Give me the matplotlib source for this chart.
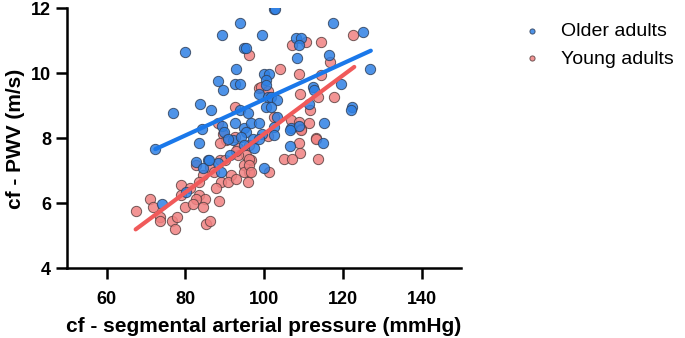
import matplotlib.pyplot as plt

plt.rcParams["font.family"] = ["Liberation Sans", "DejaVu Sans"]

# Older adults (blue)
older_x = [93.8, 89.3, 79.8, 94.8, 95.3, 92.9, 88.3, 92.5, 93.8, 89.7,
           77.0, 83.8, 86.6, 93.8, 95.9, 89.4, 92.7, 95.0, 96.7, 84.2,
           102.4, 102.9, 117.6, 99.6, 125.0, 108.1, 109.4, 108.9, 116.5, 108.3,
           126.8, 100.1, 101.3, 100.5, 100.5, 98.8, 100.9, 101.8, 103.2, 112.3,
           112.7, 119.5, 111.5, 122.4, 122.0, 100.5, 101.8, 103.4, 115.3, 98.8,
           102.6, 106.8, 108.9, 95.3, 99.6, 83.6, 72.4, 89.9, 92.1, 94.2,
           95.0, 97.1, 97.5, 91.4, 82.8, 85.7, 84.5, 88.3, 89.1, 80.3,
           74.2, 98.8, 102.6, 100.1, 106.6, 106.6, 115.0, 86.0, 90.8]
older_y = [11.56, 11.18, 10.66, 10.77, 10.77, 10.15, 9.77, 9.67, 9.67, 9.49,
           8.77, 9.06, 8.87, 8.87, 8.77, 8.38, 8.46, 8.31, 8.46, 8.29,
           11.97, 11.97, 11.56, 11.18, 11.26, 11.08, 11.08, 10.89, 10.58, 10.46,
           10.15, 9.98, 9.98, 9.79, 9.64, 9.36, 9.28, 9.28, 9.18, 9.57,
           9.49, 9.67, 9.06, 8.97, 8.87, 8.97, 8.97, 8.66, 8.48, 8.48,
           8.36, 8.31, 8.38, 8.20, 8.15, 7.87, 7.67, 8.20, 7.95, 8.05,
           7.79, 7.97, 7.69, 7.49, 7.28, 7.35, 7.08, 7.25, 6.97, 6.36,
           5.98, 7.97, 8.10, 7.08, 8.26, 7.76, 7.87, 7.33, 7.97]

# Young adults (red)
young_x = [96.3, 98.8, 92.7, 88.3, 122.7, 107.2, 110.6, 114.4, 116.8, 104.1,
           108.9, 114.4, 99.3, 100.9, 109.1, 113.8, 117.8, 111.7, 102.4, 106.8,
           108.8, 111.5, 109.4, 113.2, 89.5, 90.4, 92.5, 93.3, 95.5, 96.7,
           93.3, 82.6, 86.2, 88.7, 90.0, 84.5, 87.4, 95.0, 96.3, 95.0,
           91.7, 89.1, 90.8, 92.9, 95.9, 83.6, 79.0, 81.1, 79.0, 87.7,
           83.6, 84.9, 82.8, 88.5, 71.0, 71.8, 79.8, 81.9, 84.6, 67.6,
           73.5, 73.5, 76.5, 77.9, 77.3, 85.3, 86.3, 88.7, 96.3, 92.9,
           96.3, 96.3, 96.7, 101.2, 100.9, 109.4, 108.9, 109.1, 105.1, 107.1,
           113.2, 113.6]
young_y = [10.56, 9.55, 8.97, 8.46, 11.18, 10.89, 10.97, 10.97, 10.36, 10.15,
           9.98, 9.95, 9.57, 9.46, 9.36, 9.28, 9.28, 8.87, 8.66, 8.56,
           8.51, 8.46, 8.28, 8.00, 8.15, 7.95, 8.05, 7.69, 7.49, 7.33,
           7.49, 7.18, 7.13, 7.35, 7.33, 6.87, 6.97, 7.18, 6.97, 6.97,
           6.87, 6.66, 6.66, 6.74, 6.66, 6.66, 6.56, 6.46, 6.26, 6.46,
           6.26, 6.15, 6.15, 6.08, 6.15, 5.88, 5.88, 5.98, 5.88, 5.77,
           5.57, 5.46, 5.46, 5.57, 5.20, 5.36, 5.46, 7.87, 7.79, 7.62,
           7.38, 7.18, 6.97, 6.97, 8.07, 8.26, 7.87, 7.56, 7.36, 7.36,
           7.97, 7.36]

# Regression lines (endpoints)
older_fit_x = [72.4, 127.1]
older_fit_y = [7.67, 10.70]
young_fit_x = [67.4, 122.9]
young_fit_y = [5.20, 10.20]

blue = "#2f80e4"
red = "#f08282"

fig = plt.figure(figsize=(6.85, 3.38), dpi=100)
ax = fig.add_axes([0.098, 0.206, 0.575, 0.769])

ax.scatter(young_x, young_y, s=55, c=red, edgecolors="#5a4040", linewidths=0.7,
           alpha=0.85, label="Young adults", zorder=2)
ax.scatter(older_x, older_y, s=55, c=blue, edgecolors="#30405a", linewidths=0.7,
           alpha=0.85, label="Older adults", zorder=3)
ax.plot(older_fit_x, older_fit_y, c="#1a78ea", lw=3, solid_capstyle="round", zorder=4)
ax.plot(young_fit_x, young_fit_y, c="#f05a5a", lw=3, solid_capstyle="round", zorder=4)

ax.set_xlim(50, 150)
ax.set_ylim(4, 12)
ax.set_xticks([60, 80, 100, 120, 140])
ax.set_yticks([4, 6, 8, 10, 12])
ax.spines["top"].set_visible(False)
ax.spines["right"].set_visible(False)
for s in ["left", "bottom"]:
    ax.spines[s].set_linewidth(1.8)
ax.tick_params(axis="both", width=1.8, length=8, labelsize=13)
ax.tick_params(axis="x", pad=8)
for lbl in ax.get_xticklabels() + ax.get_yticklabels():
    lbl.set_fontweight("bold")

ax.set_xlabel("cf - segmental arterial pressure (mmHg)", fontsize=15, fontweight="bold",
              labelpad=7)
ax.set_ylabel("cf - PWV (m/s)", fontsize=15, fontweight="bold", labelpad=4)

handles, labels = ax.get_legend_handles_labels()
fig.legend(handles[::-1], labels[::-1], loc="upper left", bbox_to_anchor=(0.722, 0.985),
           frameon=False, fontsize=14, markerscale=0.5, handletextpad=0.5,
           labelspacing=0.5)

fig.savefig("out.png", dpi=100)
